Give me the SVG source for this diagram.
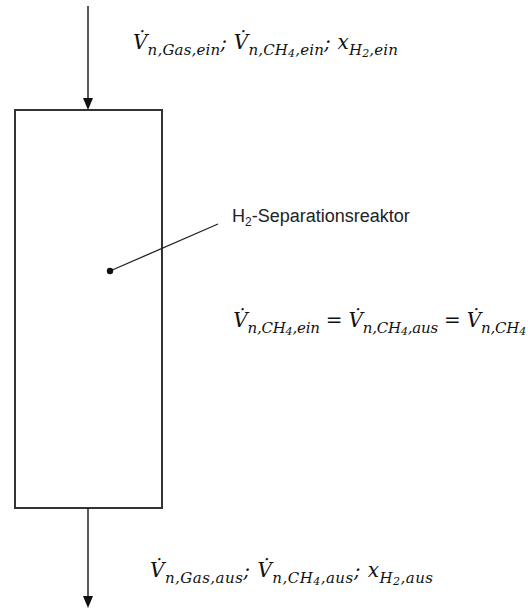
<svg xmlns="http://www.w3.org/2000/svg" width="528" height="610" viewBox="0 0 528 610">
  <style>
    .ln { stroke: #222; stroke-width: 1.5; fill: none; }
    .box { stroke: #333; stroke-width: 2; fill: none; }
    .m { font-family: "DejaVu Serif", "Liberation Serif", serif; font-style: italic; font-size: 20px; fill: #111; }
    .s { font-size: 15px; }
    .ss { font-size: 11px; }
    .lbl { font-family: "Liberation Sans", Arial, sans-serif; font-size: 18px; fill: #222; }
  </style>

  <!-- reactor vessel -->
  <g id="reactor">
    <rect class="box" x="15" y="110" width="147" height="398"/>
    <text class="lbl" x="232" y="222">H<tspan font-size="12" dy="4">2</tspan><tspan dy="-4">-Separationsreaktor</tspan></text>
  </g>

  <!-- flow connectors -->
  <g id="connectors">
    <line class="ln" x1="88" y1="6" x2="88" y2="99"/>
    <path d="M83,98 L93,98 L88,110 Z" fill="#111"/>
    <line class="ln" x1="88" y1="508" x2="88" y2="597"/>
    <path d="M83,596 L93,596 L88,608 Z" fill="#111"/>
    <!-- leader from reactor point to label -->
    <line class="ln" x1="110" y1="271" x2="218" y2="224" style="stroke-width:1.3"/>
    <circle cx="110" cy="271" r="3.2" fill="#111"/>
  </g>

  <!-- inlet stream -->
  <g id="inlet">
    <text class="m" x="133" y="49" textLength="265" lengthAdjust="spacing">V̇<tspan class="s" dy="6">n,Gas,ein</tspan><tspan dy="-6">; V̇</tspan><tspan class="s" dy="6">n,CH</tspan><tspan class="ss" dy="2">4</tspan><tspan class="s" dy="-2">,ein</tspan><tspan dy="-6">; x</tspan><tspan class="s" dy="6">H</tspan><tspan class="ss" dy="2">2</tspan><tspan class="s" dy="-2">,ein</tspan></text>
  </g>

  <!-- methane balance -->
  <g id="balance">
    <text class="m" x="233" y="327" textLength="293" lengthAdjust="spacing">V̇<tspan class="s" dy="6">n,CH</tspan><tspan class="ss" dy="2">4</tspan><tspan class="s" dy="-2">,ein</tspan><tspan dy="-6"> = V̇</tspan><tspan class="s" dy="6">n,CH</tspan><tspan class="ss" dy="2">4</tspan><tspan class="s" dy="-2">,aus</tspan><tspan dy="-6"> = V̇</tspan><tspan class="s" dy="6">n,CH</tspan><tspan class="ss" dy="2">4</tspan></text>
  </g>

  <!-- outlet stream -->
  <g id="outlet">
    <text class="m" x="150" y="577" textLength="283" lengthAdjust="spacing">V̇<tspan class="s" dy="6">n,Gas,aus</tspan><tspan dy="-6">; V̇</tspan><tspan class="s" dy="6">n,CH</tspan><tspan class="ss" dy="2">4</tspan><tspan class="s" dy="-2">,aus</tspan><tspan dy="-6">; x</tspan><tspan class="s" dy="6">H</tspan><tspan class="ss" dy="2">2</tspan><tspan class="s" dy="-2">,aus</tspan></text>
  </g>
</svg>
